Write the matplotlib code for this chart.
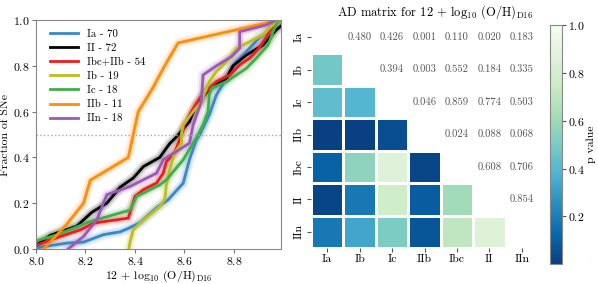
import numpy as np
import matplotlib
matplotlib.use("Agg")
import matplotlib.pyplot as plt

plt.rcParams['font.family'] = 'serif'
plt.rcParams['font.serif'] = ['cmr10', 'DejaVu Serif']
plt.rcParams['mathtext.fontset'] = 'cm'
plt.rcParams['axes.formatter.use_mathtext'] = True
plt.rcParams['axes.unicode_minus'] = False

# --- CDF data (metallicity, cumulative fraction) ---
x_ia = [7.97, 8.0, 8.125, 8.192, 8.272, 8.34, 8.373, 8.42, 8.487, 8.534, 8.595, 8.62, 8.648,
        8.662, 8.70, 8.729, 8.77, 8.81, 8.85, 8.90, 8.957, 8.977]
f_ia = [0.0, 0.005, 0.026, 0.030, 0.0625, 0.075, 0.09, 0.115, 0.18, 0.215, 0.288, 0.39, 0.477,
        0.50, 0.586, 0.673, 0.746, 0.818, 0.862, 0.92, 0.964, 1.0]

x_ii = [7.97, 8.0, 8.058, 8.125, 8.165, 8.225, 8.286, 8.34, 8.393, 8.434, 8.50, 8.54, 8.568,
        8.62, 8.648, 8.70, 8.77, 8.796, 8.85, 8.917, 8.97, 9.02]
f_ii = [0.0, 0.015, 0.06, 0.085, 0.10, 0.16, 0.20, 0.27, 0.31, 0.36, 0.40, 0.46, 0.49,
        0.557, 0.63, 0.70, 0.746, 0.80, 0.847, 0.89, 0.956, 1.0]

x_ibc = [7.97, 8.0, 8.058, 8.18, 8.232, 8.373, 8.40, 8.434, 8.487, 8.514, 8.527, 8.56, 8.588,
         8.60, 8.628, 8.662, 8.70, 8.729, 8.783, 8.823, 8.863, 8.90, 8.937, 8.964, 8.98]
f_ibc = [0.0, 0.015, 0.04, 0.084, 0.113, 0.135, 0.23, 0.259, 0.288, 0.331, 0.382, 0.419, 0.50,
         0.542, 0.60, 0.658, 0.702, 0.731, 0.76, 0.804, 0.833, 0.876, 0.935, 0.99, 1.0]

x_ib = [8.375, 8.38, 8.393, 8.42, 8.46, 8.50, 8.52, 8.527, 8.54, 8.56, 8.588, 8.588, 8.595,
        8.615, 8.635, 8.668, 8.70, 8.729, 8.77, 8.81, 8.863, 8.917, 8.957, 8.98]
f_ib = [0.0, 0.03, 0.084, 0.113, 0.15, 0.186, 0.215, 0.28, 0.346, 0.42, 0.462, 0.506, 0.542,
        0.571, 0.60, 0.644, 0.731, 0.775, 0.818, 0.876, 0.905, 0.935, 0.978, 1.0]

x_ic = [7.95, 8.0, 8.085, 8.219, 8.38, 8.407, 8.50, 8.527, 8.595, 8.635, 8.648, 8.675, 8.695,
        8.70, 8.709, 8.77, 8.81, 8.85, 8.89, 8.937, 8.964, 8.98]
f_ic = [0.0, 0.035, 0.0625, 0.12, 0.17, 0.23, 0.28, 0.302, 0.39, 0.462, 0.484, 0.542, 0.60,
        0.673, 0.702, 0.731, 0.76, 0.789, 0.833, 0.89, 0.964, 1.0]

x_iib = [8.031, 8.118, 8.192, 8.219, 8.373, 8.393, 8.413, 8.47, 8.52, 8.574, 8.984]
f_iib = [0.0, 0.1, 0.2, 0.3, 0.4, 0.5, 0.6, 0.7, 0.8, 0.9, 1.0]

x_iin = [8.13, 8.192, 8.246, 8.286, 8.38, 8.487, 8.514, 8.62, 8.635, 8.668, 8.675, 8.729,
         8.79, 8.823, 8.823, 8.93, 8.97]
f_iin = [0.0, 0.055, 0.128, 0.237, 0.273, 0.331, 0.39, 0.462, 0.542, 0.644, 0.76, 0.80,
         0.84, 0.876, 0.949, 0.978, 1.0]

labels = ["Ia - 70", "II - 72", "Ibc+IIb - 54", "Ib - 19", "Ic - 18", "IIb - 11", "IIn - 18"]
colors = ["#3a87c8", "black", "#ee1c1c", "#bcbd22", "#3fae49", "#ff8c0a", "#9b59b6"]

# --- AD matrix p-values (upper triangle) ---
types = ["Ia", "Ib", "Ic", "IIb", "Ibc", "II", "IIn"]
p_ia = [0.480, 0.426, 0.001, 0.110, 0.020, 0.183]
p_ib = [0.394, 0.003, 0.552, 0.184, 0.335]
p_ic = [0.046, 0.859, 0.774, 0.503]
p_iib = [0.024, 0.088, 0.068]
p_ibc = [0.608, 0.706]
p_ii = [0.854]

fig = plt.figure(figsize=(5.98, 2.84), dpi=100)
W, H = 598.0, 284.0

# ------------- left panel: CDFs -------------
ax = fig.add_axes([36 / W, 1 - 249 / H, 245 / W, 229 / H])
series = [(x_ia, f_ia), (x_ii, f_ii), (x_ibc, f_ibc), (x_ib, f_ib),
          (x_ic, f_ic), (x_iib, f_iib), (x_iin, f_iin)]
for (xs, fs), c in zip(series, colors):
    ax.plot(xs, fs, color=c, lw=7.5, alpha=0.10, solid_capstyle='round')
    ax.plot(xs, fs, color=c, lw=4.5, alpha=0.18, solid_capstyle='round')
for (xs, fs), c, lab in zip(series, colors, labels):
    ax.plot(xs, fs, color=c, lw=2.0, label=lab)
ax.axhline(0.5, color='#aaaaaa', ls=':', lw=1)
ax.set_xlim(8.0, 8.99)
ax.set_ylim(0, 1)
ax.set_xticks([8.0, 8.2, 8.4, 8.6, 8.8])
ax.set_yticks([0.0, 0.2, 0.4, 0.6, 0.8, 1.0])
ax.tick_params(labelsize=8.5, length=3, color='#777777', pad=1.5)
for s in ax.spines.values():
    s.set_color('#888888')
ax.set_xlabel(r"12 + log$_{10}$ (O/H)$_{\rm D16}$", fontsize=8.5, labelpad=1)
ax.set_ylabel("Fraction of SNe", fontsize=8.5, labelpad=2)
ax.legend(loc='upper left', bbox_to_anchor=(0.0, 1.022), frameon=False,
          fontsize=7.8, handlelength=2.6, labelspacing=0.42, borderaxespad=0.9,
          handletextpad=0.8)

# ------------- right panel: AD matrix -------------
upper = [p_ia, p_ib, p_ic, p_iib, p_ibc, p_ii]
n = len(types)
mat = np.full((n, n), np.nan)
for i, row in enumerate(upper):
    for k, v in enumerate(row):
        j = i + 1 + k
        mat[j, i] = v
vmin = np.nanmin(mat)

hx = fig.add_axes([311 / W, 1 - 248 / H, 227 / W, 227 / H])
mesh = hx.pcolormesh(np.ma.masked_invalid(mat), cmap='GnBu_r', vmin=vmin, vmax=1.0,
                     edgecolors='white', linewidth=1)
hx.set_xlim(0, n)
hx.set_ylim(n, 0)
for i, row in enumerate(upper):
    for k, v in enumerate(row):
        j = i + 1 + k
        hx.text(j + 0.5, i + 0.5, "%.3f" % v, ha='center', va='center',
                fontsize=7.6, color='#555555')
hx.set_xticks(np.arange(n) + 0.5)
hx.set_yticks(np.arange(n) + 0.5)
hx.set_xticklabels(types, fontsize=8.5)
hx.set_yticklabels(types, fontsize=8.5, rotation=90, va='center')
hx.tick_params(length=3, color='#555555', pad=2)
for s in hx.spines.values():
    s.set_visible(False)

cax = fig.add_axes([550 / W, 1 - 264 / H, 12 / W, 239 / H])
cb = fig.colorbar(mesh, cax=cax)
cb.set_ticks([0.2, 0.4, 0.6, 0.8, 1.0])
cb.ax.tick_params(labelsize=8.5, length=3, color='#555555', pad=1.5)
cb.outline.set_edgecolor('#888888')
cb.set_label("p value", fontsize=8.5, labelpad=1)

fig.text(435 / W, 1 - 12 / H, r"AD matrix for 12 + log$_{10}$ (O/H)$_{\rm D16}$",
         ha='center', va='center', fontsize=9)

fig.savefig("out.png", dpi=100)
